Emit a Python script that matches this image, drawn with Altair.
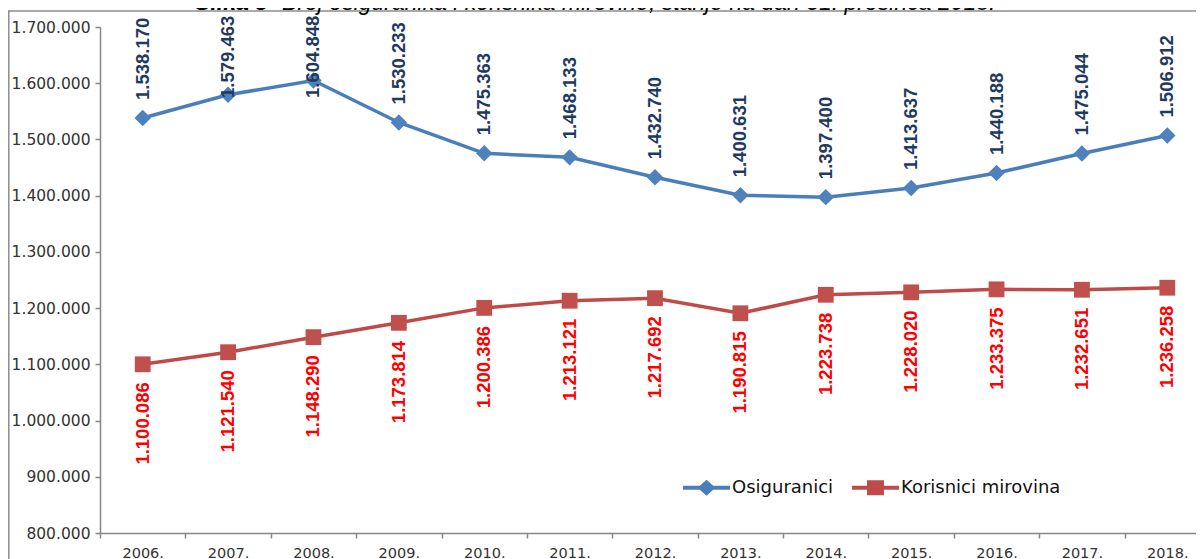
import altair as alt
import pandas as pd

# ---- data ----
years = ["2006.", "2007.", "2008.", "2009.", "2010.", "2011.", "2012.",
         "2013.", "2014.", "2015.", "2016.", "2017.", "2018."]
osiguranici = [1538170, 1579463, 1604848, 1530233, 1475363, 1468133, 1432740,
               1400631, 1397400, 1413637, 1440188, 1475044, 1506912]
korisnici = [1100086, 1121540, 1148290, 1173814, 1200386, 1213121, 1217692,
             1190815, 1223738, 1228020, 1233375, 1232651, 1236258]
series = ["Osiguranici", "Korisnici mirovina"]
y_ticks = [800000, 900000, 1000000, 1100000, 1200000, 1300000, 1400000,
           1500000, 1600000, 1700000]
title_bold = "Slika 5"
title_rest = " - Broj osiguranika i korisnika mirovine, stanje na dan 31. prosinca 2018."

BLUE = "#4A7EBB"
RED = "#BE4B48"
BLUE_MARK = "#4F81BD"
RED_MARK = "#C0504D"
LABEL_BLUE = "#1F3A60"
LABEL_RED = "#FF0000"
AXIS_GRAY = "#868686"
TXT = "#333333"


def fmt(v):
    return f"{v:,}".replace(",", ".")


rows = []
for i, y in enumerate(years):
    rows.append({"godina": y, "serija": series[0], "vrijednost": osiguranici[i],
                 "oznaka": fmt(osiguranici[i])})
for i, y in enumerate(years):
    rows.append({"godina": y, "serija": series[1], "vrijednost": korisnici[i],
                 "oznaka": fmt(korisnici[i])})
df = pd.DataFrame(rows)

x_enc = alt.X(
    "godina:N", sort=years,
    scale=alt.Scale(type="band", paddingInner=0, paddingOuter=0, range=[0, 1110]),
    axis=alt.Axis(title=None, labelAngle=0, tickBand="extent",
                  domainColor=AXIS_GRAY, domainWidth=1.5, tickColor=AXIS_GRAY,
                  tickWidth=1.5, tickSize=5, labelPadding=8,
                  labelFont="DejaVu Sans", labelFontSize=14.5, labelColor=TXT,
                  grid=False),
)
y_scale = alt.Scale(domain=[800000, 1700000], nice=False, zero=False)
y_enc = alt.Y(
    "vrijednost:Q", scale=y_scale,
    axis=alt.Axis(title=None, values=y_ticks, grid=False,
                  labelExpr="replace(format(datum.value, ',d'), /,/g, '.')",
                  domainColor=AXIS_GRAY, domainWidth=1.5, tickColor=AXIS_GRAY,
                  tickWidth=1.5, tickSize=5, labelPadding=5,
                  labelFont="DejaVu Sans", labelFontSize=15.5, labelColor=TXT),
)
color_scale = alt.Scale(domain=series, range=[BLUE, RED])

# legend symbols: a short line with the series marker on it
DIAMOND = "M-1,-0.08L1,-0.08L1,0.08L-1,0.08ZM0,-0.34L0.38,0L0,0.34L-0.38,0Z"
SQUARE = "M-1,-0.08L1,-0.08L1,0.08L-1,0.08ZM-0.36,-0.32L0.36,-0.32L0.36,0.32L-0.36,0.32Z"

legend = alt.Legend(
    title=None, orient="none", legendX=583, legendY=437, direction="horizontal",
    labelFont="DejaVu Sans", labelFontSize=18, labelColor="#111111",
    symbolSize=2209, symbolStrokeWidth=0, labelOffset=2, columnPadding=18,
    padding=0, symbolOpacity=1,
)

base = alt.Chart(df)

lines = base.mark_line(strokeWidth=3.5).encode(
    x=x_enc, y=y_enc,
    color=alt.Color("serija:N", scale=color_scale, legend=legend),
    detail="serija:N",
)

# tiny points carrying the legend's symbol shapes (hidden under the markers)
legend_points = base.mark_point(filled=True, size=9, opacity=1).encode(
    x=x_enc, y=y_enc,
    color=alt.Color("serija:N", scale=color_scale, legend=legend),
    shape=alt.Shape("serija:N", scale=alt.Scale(domain=series, range=[DIAMOND, SQUARE]),
                    legend=legend),
)

blue_points = base.transform_filter(alt.datum.serija == series[0]).mark_point(
    filled=True, size=270, opacity=1, shape="diamond", color=BLUE_MARK
).encode(x=x_enc, y=y_enc)

red_points = base.transform_filter(alt.datum.serija == series[1]).mark_point(
    filled=True, size=250, opacity=1, shape="square", color=RED_MARK
).encode(x=x_enc, y=y_enc)

label_font = "Liberation Sans"

blue_labels = base.transform_filter(
    alt.datum.serija == series[0]
).transform_calculate(
    polozaj="min(datum.vrijednost, 1541700)"
).mark_text(
    angle=270, align="left", baseline="middle", dx=18,
    font=label_font, fontSize=18.5, fontWeight="bold", color=LABEL_BLUE,
).encode(
    x=x_enc, y=alt.Y("polozaj:Q", scale=y_scale), text="oznaka:N",
)

red_labels = base.transform_filter(
    alt.datum.serija == series[1]
).mark_text(
    angle=270, align="right", baseline="middle", dx=-18,
    font=label_font, fontSize=18.5, fontWeight="bold", color=LABEL_RED,
).encode(
    x=x_enc, y=y_enc, text="oznaka:N",
)

one = pd.DataFrame({"k": [0]})
frame_top = alt.Chart(one).mark_rule(color="#8C8C8C", strokeWidth=1.5).encode(
    x=alt.value(-92), x2=alt.value(1200), y=alt.value(-16))
frame_left = alt.Chart(one).mark_rule(color="#8C8C8C", strokeWidth=1.5).encode(
    x=alt.value(-91.2), y=alt.value(-16), y2=alt.value(540))

title1 = alt.Chart(one).mark_text(
    align="right", baseline="alphabetic", font="Liberation Sans", fontSize=23,
    fontStyle="italic", fontWeight="bold", color="#000000",
).encode(x=alt.value(168), y=alt.value(-17.5), text=alt.value(title_bold))
title2 = alt.Chart(one).mark_text(
    align="left", baseline="alphabetic", font="Liberation Sans", fontSize=23,
    fontStyle="italic", color="#000000",
).encode(x=alt.value(168), y=alt.value(-17.5), text=alt.value(title_rest))

chart = alt.layer(
    frame_top, frame_left, title1, title2, lines, legend_points,
    blue_points, red_points, blue_labels, red_labels
).properties(
    width=1096, height=506,
    autosize=alt.AutoSizeParams(type="none"),
    padding={"left": 92, "top": 19, "right": 0, "bottom": 26},
).configure_view(stroke=None)

chart.save("out.html", embed_options={"renderer": "svg", "actions": False})
